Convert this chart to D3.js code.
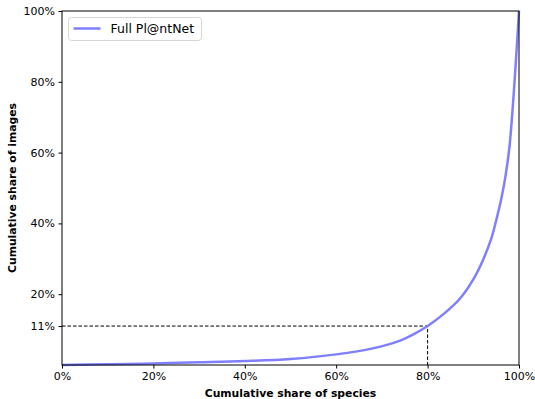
<!DOCTYPE html>
<html>
<head>
<meta charset="utf-8">
<script src="https://cdn.jsdelivr.net/npm/d3@7"></script>
<style>
	body { margin: 0; background: #fff; }
	text { font-family: "DejaVu Sans", sans-serif; }
</style>
</head>
<body>
<div id="chart"></div>
<script>

// cumulative share of species (%) vs cumulative share of images (%)
const speciesShare = [0, 10, 20, 30, 40, 50, 60, 68, 74, 77, 80, 83.4, 87.1, 90, 92.2, 94, 95.1, 96.1, 97, 97.9, 98.5, 99.1, 99.6, 100];
const imageShare   = [0, 0.2, 0.45, 0.75, 1.1, 1.7, 3.0, 4.7, 6.9, 8.7, 11, 14.3, 18.8, 24.2, 29.9, 36.0, 41.3, 46.8, 53.0, 61.5, 70.5, 81.5, 91.5, 100];
const xTicks = [0, 20, 40, 60, 80, 100];
const yTicks = [11, 20, 40, 60, 80, 100];
const seriesName = 'Full Pl@ntNet';
const cutX = 80, cutY = 11;

const width = 535, height = 399;
const margin = { left: 62, right: 16, top: 11, bottom: 34 };

const svg = d3.select('#chart')
	.append('svg')
		.attr('width', width)
		.attr('height', height);

const xScale = d3.scaleLinear().domain([0, 100]).range([margin.left, width - margin.right]);
const yScale = d3.scaleLinear().domain([0, 100]).range([height - margin.bottom, margin.top]);

// dashed guide lines
svg.append('path')
	.attr('d', `M${xScale(0)},${yScale(cutY)}H${xScale(cutX)}V${yScale(0)}`)
	.attr('fill', 'none')
	.attr('stroke', '#000')
	.attr('stroke-width', 1)
	.attr('stroke-dasharray', '3.5,2');

// curve
const line = d3.line()
	.x((d, i) => xScale(speciesShare[i]))
	.y(d => yScale(d))
	.curve(d3.curveCatmullRom.alpha(0.5));

svg.append('path')
	.datum(imageShare)
	.attr('d', line)
	.attr('fill', 'none')
	.attr('stroke', '#7f7fff')
	.attr('stroke-width', 2.5);

// frame
svg.append('rect')
	.attr('x', xScale(0))
	.attr('y', yScale(100))
	.attr('width', xScale(100) - xScale(0))
	.attr('height', yScale(0) - yScale(100))
	.attr('fill', 'none')
	.attr('stroke', '#000')
	.attr('stroke-width', 1);

const fmt = d => d + '%';

const xAxis = d3.axisBottom(xScale).tickValues(xTicks).tickFormat(fmt).tickSize(3.5).tickPadding(3.5);
svg.append('g')
	.attr('transform', `translate(0, ${yScale(0)})`)
	.call(xAxis)
	.call(g => g.select('.domain').remove())
	.call(g => g.selectAll('text').attr('font-size', 11).attr('fill', '#000').attr('font-family', 'DejaVu Sans'));

const yAxis = d3.axisLeft(yScale).tickValues(yTicks).tickFormat(fmt).tickSize(3.5).tickPadding(3.5);
svg.append('g')
	.attr('transform', `translate(${xScale(0)}, 0)`)
	.call(yAxis)
	.call(g => g.select('.domain').remove())
	.call(g => g.selectAll('text').attr('font-size', 11).attr('fill', '#000').attr('font-family', 'DejaVu Sans'));

// axis titles
svg.append('text')
	.attr('x', (xScale(0) + xScale(100)) / 2)
	.attr('y', 397)
	.attr('text-anchor', 'middle')
	.attr('font-size', 10.8)
	.attr('font-weight', 'bold')
	.text('Cumulative share of species');

svg.append('text')
	.attr('transform', `translate(16, ${(yScale(0) + yScale(100)) / 2}) rotate(-90)`)
	.attr('text-anchor', 'middle')
	.attr('font-size', 10.8)
	.attr('font-weight', 'bold')
	.text('Cumulative share of images');

// legend
const legend = svg.append('g').attr('transform', 'translate(68.5, 17.5)');
legend.append('rect')
	.attr('width', 133)
	.attr('height', 23)
	.attr('rx', 3)
	.attr('fill', '#fff')
	.attr('fill-opacity', 0.8)
	.attr('stroke', '#d6d6d6');
legend.append('line')
	.attr('x1', 5).attr('x2', 32)
	.attr('y1', 11).attr('y2', 11)
	.attr('stroke', '#7f7fff')
	.attr('stroke-width', 2.5);
legend.append('text')
	.attr('x', 42)
	.attr('y', 15.5)
	.attr('font-size', 12.5)
	.text(seriesName);

</script>
</body>
</html>
